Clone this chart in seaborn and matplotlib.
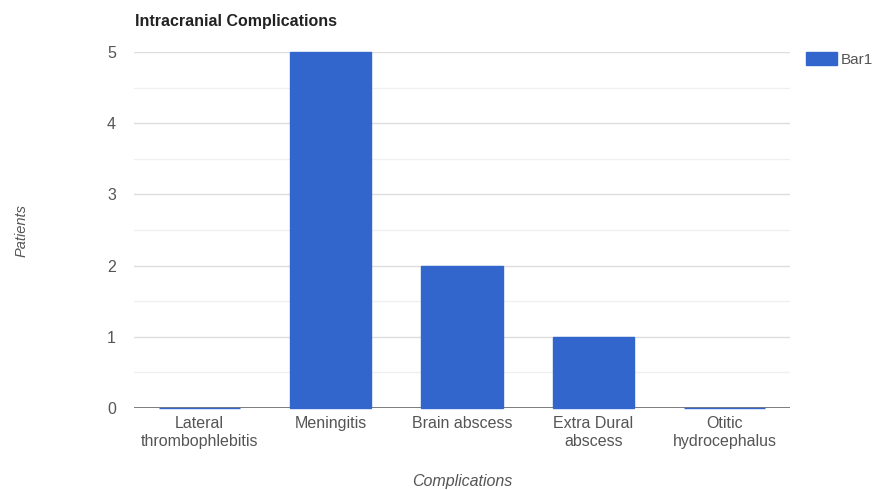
import matplotlib
matplotlib.use("Agg")
import matplotlib.pyplot as plt
from matplotlib.patches import Patch
import pandas as pd
import seaborn as sns

# Chart data
complications = ["Lateral\nthrombophlebitis", "Meningitis", "Brain abscess",
                 "Extra Dural\nabscess", "Otitic\nhydrocephalus"]
patients = [0, 5, 2, 1, 0]
y_ticks = [0, 1, 2, 3, 4, 5]

df = pd.DataFrame({"Complications": complications, "Patients": patients})

sns.set_style("white")
plt.rcParams["font.family"] = ["Liberation Sans", "DejaVu Sans"]

blue = "#3366CC"
text_col = "#555555"

fig = plt.figure(figsize=(8.78, 4.9), dpi=100)
ax = fig.add_axes([0.1526, 0.1673, 0.7472, 0.7266])

# light gridlines, including half steps
for v in [0.5, 1.5, 2.5, 3.5, 4.5]:
    ax.axhline(v, color="#f0f0f0", lw=1, zorder=0)
for v in y_ticks[1:]:
    ax.axhline(v, color="#dddddd", lw=1, zorder=0)

ax.axhline(0, color="#666666", lw=1.2, zorder=1)
sns.barplot(data=df, x="Complications", y="Patients", color=blue,
            saturation=1, width=0.62, edgecolor=blue, linewidth=1,
            ax=ax, zorder=2)
for p in ax.patches:
    p.set_clip_on(False)

ax.set_ylim(0, 5)
ax.set_xlim(-0.5, len(complications) - 0.5)
ax.set_yticks(y_ticks)
ax.tick_params(axis="both", length=0, labelsize=11.5, colors=text_col)
ax.tick_params(axis="y", pad=13)
ax.tick_params(axis="x", pad=6)
for s in ax.spines.values():
    s.set_visible(False)

ax.set_xlabel("Complications", fontstyle="italic", fontsize=11.5,
              color=text_col, labelpad=18)
ax.set_ylabel("")
fig.text(0.024, 0.53, "Patients", rotation=90, fontstyle="italic",
         fontsize=10.5, color=text_col, ha="center", va="center")

fig.text(0.1538, 0.957, "Intracranial Complications", fontweight="bold",
         fontsize=11.5, color="#222222", ha="left", va="center")

handles = [Patch(facecolor=blue, edgecolor=blue, label="Bar1")]
leg = fig.legend(handles=handles, loc="upper left",
                 bbox_to_anchor=(0.918, 0.893), frameon=False,
                 fontsize=11, handlelength=2.0, handleheight=0.9,
                 handletextpad=0.3, borderaxespad=0, borderpad=0)
for t in leg.get_texts():
    t.set_color(text_col)

fig.savefig("out.png", dpi=100)
